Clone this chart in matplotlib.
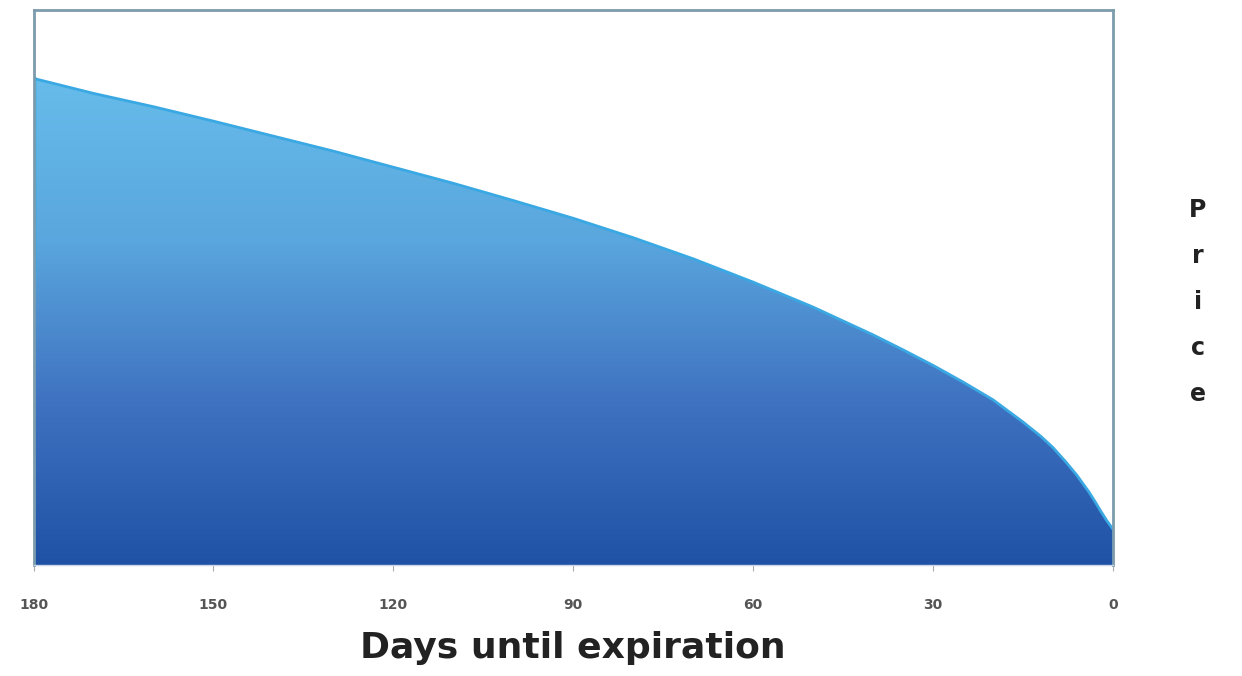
import numpy as np
import matplotlib.pyplot as plt
from matplotlib.patches import Polygon
from matplotlib.colors import LinearSegmentedColormap

# option time value vs days until expiration
days = [180, 170, 160, 150, 140, 130, 120, 110, 100, 90, 80, 70, 60, 50, 45,
        40, 35, 30, 25, 20, 15, 12, 10, 8, 6, 4, 3, 2, 1, 0]
price = [0.877, 0.850, 0.826, 0.800, 0.773, 0.746, 0.717, 0.688, 0.657, 0.625,
         0.590, 0.552, 0.510, 0.465, 0.440, 0.415, 0.388, 0.360, 0.330, 0.298,
         0.258, 0.232, 0.212, 0.188, 0.162, 0.132, 0.115, 0.097, 0.080, 0.065]
ticks = [180, 150, 120, 90, 60, 30, 0]

fig = plt.figure(figsize=(12.42, 6.76), dpi=100)
ax = fig.add_axes([0.027, 0.164, 0.869, 0.821])
ax.set_xlim(180, 0)
ax.set_ylim(0, 1)

# gradient fill clipped to the area under the curve
verts = [(d, p) for d, p in zip(days, price)] + [(0, 0), (180, 0)]
poly = Polygon(verts, closed=True, facecolor="none", edgecolor="none")
ax.add_patch(poly)
cmap = LinearSegmentedColormap.from_list("blu", ["#1f52a5", "#3f72c0", "#5aa6de", "#66bcea"])
grad = np.linspace(0, 1, 256).reshape(-1, 1)
im = ax.imshow(grad, cmap=cmap, origin="lower", aspect="auto",
               extent=[180, 0, 0, max(price)], zorder=1)
im.set_clip_path(poly)

ax.plot(days, price, color="#3aa8e2", lw=2, zorder=2)
ax.plot([180, 180], [0.52, price[0]], color="#22b0ea", lw=2.5, zorder=2)

for s in ["left", "top", "right"]:
    ax.spines[s].set_color("#7c9cae")
    ax.spines[s].set_linewidth(2)
ax.spines["bottom"].set_color("#c8d6e8")
ax.spines["bottom"].set_linewidth(1)

ax.set_yticks([])
ax.set_xticks(ticks)
ax.set_xticklabels([str(t) for t in ticks], fontsize=10, fontweight="bold",
                   color="#555555", family="DejaVu Sans")
ax.tick_params(axis="x", length=4, color="#aaaaaa", pad=20)

ax.set_xlabel("Days until expiration", fontsize=26, fontweight="bold",
              color="#222222", family="DejaVu Sans", labelpad=13)

for i, ch in enumerate("Price"):
    fig.text(1198 / 1242, 1 - (210 + i * 46) / 676, ch, fontsize=17,
             fontweight="bold", color="#222222", family="DejaVu Sans",
             ha="center", va="center")

fig.savefig("out.png", dpi=100, facecolor="white")
